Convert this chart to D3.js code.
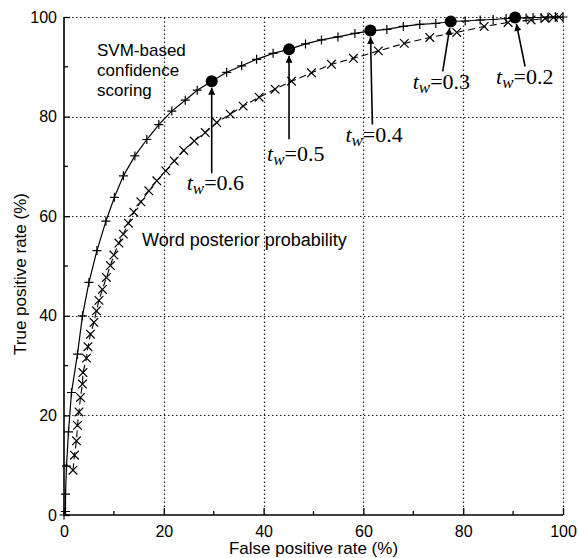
<!DOCTYPE html>
<html>
<head>
<meta charset="utf-8">
<script src="https://cdn.jsdelivr.net/npm/d3@7"></script>
<style>
  body { margin: 0; background: #fff; }
  svg { display: block; }
  .sans { font-family: "Liberation Sans", Arial, Helvetica, sans-serif; }
  .serif { font-family: "Liberation Serif", "Times New Roman", serif; }
</style>
</head>
<body>
<svg width="579" height="558"></svg>
<script>
// SVM-based confidence scoring (solid, "+")
var svmFpr = [0, 0.3, 0.3, 0.5, 0.9, 1.5, 2.7, 3.7, 5.0, 6.6, 8.4, 10.1, 11.9, 14.2, 16.6, 19.0, 21.6, 24.3, 26.7,
  29.6, 32.6, 35.6, 38.6, 41.9, 45.1, 48.4, 51.6, 54.9, 58.3, 61.4, 64.7, 68.0, 71.3, 74.5, 77.5, 80.4, 83.4, 86.0,
  88.6, 90.4, 92.6, 94.0, 95.6, 97.0, 98.5, 100];
var svmTpr = [0, 0.7, 4.2, 9.8, 16.7, 24.6, 32.3, 40.0, 46.7, 53.1, 59.0, 63.8, 68.1, 72.1, 75.4, 78.4, 81.1, 83.3, 85.3,
  87.1, 88.9, 90.2, 91.5, 92.7, 93.5, 94.6, 95.4, 96.0, 96.7, 97.2, 97.5, 98.1, 98.5, 98.7, 99.1, 99.2, 99.4, 99.5,
  99.7, 99.9, 99.8, 99.9, 99.9, 100, 100, 100];

// Word posterior probability (dashed, "x")
var wppFpr = [1.8, 2.1, 2.5, 2.7, 3.0, 3.3, 3.7, 3.8, 4.5, 4.8, 5.3, 6.0, 6.5, 7.0, 7.7, 8.5, 9.3, 10.0, 11.0, 11.9,
  12.9, 14.0, 15.4, 17.0, 18.6, 20.4, 22.1, 24.0, 26.1, 28.3, 30.6, 33.3, 35.9, 39.1, 42.3, 45.6, 49.6, 53.6, 58.0,
  63.0, 68.2, 73.3, 78.7, 84.2, 89.0, 93.6, 96.4, 98.1, 99.2];
var wppTpr = [9.0, 12.0, 14.9, 18.0, 20.7, 23.6, 26.3, 28.6, 31.5, 33.8, 36.3, 38.7, 41.0, 43.1, 45.3, 47.7, 50.1, 52.2,
  54.6, 56.4, 58.6, 60.8, 62.9, 65.1, 67.1, 69.1, 71.1, 73.2, 75.1, 76.8, 78.8, 80.5, 82.1, 83.9, 85.5, 87.1, 88.8,
  90.5, 91.7, 93.2, 94.7, 95.9, 96.9, 98.1, 98.9, 99.4, 99.7, 99.9, 100];

// operating points at thresholds t_w
var thresholds = ["0.6", "0.5", "0.4", "0.3", "0.2"];
var thrFpr = [29.6, 45.1, 61.4, 77.5, 90.4];
var thrTpr = [87.1, 93.5, 97.3, 99.1, 99.9];

var xTicks = [0, 20, 40, 60, 80, 100];
var yTicks = [0, 20, 40, 60, 80, 100];
var minorTicks = [10, 30, 50, 70, 90];

const svg = d3.select("svg");
var margin = { left: 64, right: 16, top: 17, bottom: 43 };
var width = +svg.attr("width");
var height = +svg.attr("height");

var x = d3.scaleLinear().domain([0, 100]).range([margin.left, width - margin.right]);
var y = d3.scaleLinear().domain([0, 100]).range([height - margin.bottom, margin.top]);

// dotted grid
var grid = svg.append("g");
grid.selectAll("line.gx").data(xTicks.slice(1)).join("line")
  .attr("class", "gx")
  .attr("x1", d => Math.round(x(d)) + 0.5).attr("x2", d => Math.round(x(d)) + 0.5)
  .attr("y1", y(0)).attr("y2", y(100));
grid.selectAll("line.gy").data(yTicks.slice(1)).join("line")
  .attr("class", "gy")
  .attr("y1", d => Math.round(y(d)) + 0.5).attr("y2", d => Math.round(y(d)) + 0.5)
  .attr("x1", x(0)).attr("x2", x(100));
grid.selectAll("line")
  .attr("stroke", "#222").attr("stroke-width", 1.2).attr("stroke-dasharray", "1.5,2.5");

// axes (ticks pointing inward)
var xAxis = svg.append("g").attr("transform", "translate(0," + y(0) + ")")
  .call(d3.axisBottom(x).tickValues(xTicks).tickSize(-7).tickPadding(11));
var yAxis = svg.append("g").attr("transform", "translate(" + x(0) + ",0)")
  .call(d3.axisLeft(y).tickValues(yTicks).tickSize(-6).tickPadding(7));
[xAxis, yAxis].forEach(function (a) {
  a.select(".domain").attr("stroke-width", 1.6);
  a.selectAll(".tick line").attr("stroke-width", 1.3);
  a.selectAll("text").attr("class", "sans").attr("font-size", 16).attr("fill", "#000");
});
xAxis.select(".domain").attr("d", "M" + x(0) + ",0H" + x(100));
yAxis.select(".domain").attr("d", "M0," + y(0) + "V" + y(100));

svg.append("g").selectAll("line").data(minorTicks).join("line")
  .attr("x1", d => x(d)).attr("x2", d => x(d)).attr("y1", y(0)).attr("y2", y(0) - 4)
  .attr("stroke", "#000").attr("stroke-width", 1.3);
svg.append("g").selectAll("line").data(minorTicks).join("line")
  .attr("y1", d => y(d)).attr("y2", d => y(d)).attr("x1", x(0)).attr("x2", x(0) + 4)
  .attr("stroke", "#000").attr("stroke-width", 1.3);

// axis titles
svg.append("text").attr("class", "sans").attr("font-size", 17)
  .attr("x", (x(0) + x(100)) / 2).attr("y", 554).attr("text-anchor", "middle")
  .text("False positive rate (%)");
svg.append("text").attr("class", "sans").attr("font-size", 17)
  .attr("transform", "translate(26," + (y(50) + 8) + ") rotate(-90)").attr("text-anchor", "middle")
  .text("True positive rate (%)");

var line = d3.line().x(d => x(d[0])).y(d => y(d[1]));
var svmPts = svmFpr.map((v, i) => [v, svmTpr[i]]);
var wppPts = wppFpr.map((v, i) => [v, wppTpr[i]]);

svg.append("path").datum(svmPts).attr("d", line)
  .attr("fill", "none").attr("stroke", "#000").attr("stroke-width", 1.2);
svg.append("path").datum(wppPts).attr("d", line)
  .attr("fill", "none").attr("stroke", "#000").attr("stroke-width", 1.1).attr("stroke-dasharray", "7,4");

// markers
svg.append("g").selectAll("path").data(svmPts).join("path")
  .attr("d", "M-4.5,0H4.5M0,-4.5V4.5")
  .attr("transform", d => "translate(" + x(d[0]) + "," + y(d[1]) + ")")
  .attr("stroke", "#000").attr("stroke-width", 1.2);
svg.append("g").selectAll("path").data(wppPts).join("path")
  .attr("d", "M-4.3,-4.3L4.3,4.3M-4.3,4.3L4.3,-4.3")
  .attr("transform", d => "translate(" + x(d[0]) + "," + y(d[1]) + ")")
  .attr("stroke", "#000").attr("stroke-width", 1.2);

// operating points + arrows + labels
var labelOffsets = [[-25, 109], [-22, 112], [-25, 112], [-38, 68], [-19, 67]]; // label left / baseline offset from point (px)
var tailOffsets = [[0, 92], [0, 90], [2, 94], [-8, 50], [10, 49]];

svg.append("defs").append("marker").attr("id", "ah")
  .attr("viewBox", "0 0 10 10").attr("refX", 10).attr("refY", 5)
  .attr("markerWidth", 11).attr("markerHeight", 7).attr("markerUnits", "userSpaceOnUse")
  .attr("orient", "auto")
  .append("path").attr("d", "M0,0L10,5L0,10z").attr("fill", "#000");

thresholds.forEach(function (t, i) {
  var px = x(thrFpr[i]), py = y(thrTpr[i]);
  var tx = px + tailOffsets[i][0], ty = py + tailOffsets[i][1];
  var dx = px - tx, dy = py - ty, len = Math.sqrt(dx * dx + dy * dy);
  var ex = px - dx / len * 6.5, ey = py - dy / len * 6.5;
  svg.append("line").attr("x1", tx).attr("y1", ty).attr("x2", ex).attr("y2", ey)
    .attr("stroke", "#000").attr("stroke-width", 1.6).attr("marker-end", "url(#ah)");
  var lab = svg.append("text").attr("class", "serif").attr("font-size", 22)
    .attr("x", px + labelOffsets[i][0]).attr("y", py + labelOffsets[i][1]);
  lab.append("tspan").attr("font-style", "italic").text("t");
  lab.append("tspan").attr("font-style", "italic").attr("font-size", 17).attr("dy", 4).text("w");
  lab.append("tspan").attr("dy", -4).text("=" + t);
});
svg.append("g").selectAll("circle").data(thresholds).join("circle")
  .attr("cx", (d, i) => x(thrFpr[i])).attr("cy", (d, i) => y(thrTpr[i])).attr("r", 6).attr("fill", "#000");

// curve labels
var svmLabel = svg.append("text").attr("class", "sans").attr("font-size", 17).attr("x", 97).attr("y", 56);
["SVM-based", "confidence", "scoring"].forEach(function (s, i) {
  svmLabel.append("tspan").attr("x", 97).attr("dy", i ? 20 : 0).text(s);
});
svg.append("text").attr("class", "sans").attr("font-size", 18).attr("x", 142).attr("y", 246)
  .text("Word posterior probability");
</script>
</body>
</html>
